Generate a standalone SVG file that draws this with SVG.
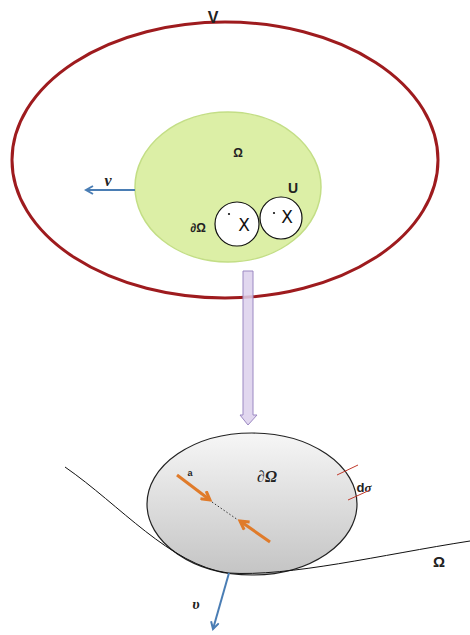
<svg xmlns="http://www.w3.org/2000/svg" width="470" height="635" viewBox="0 0 470 635">
<defs>
<linearGradient id="gray" x1="0" y1="0" x2="0" y2="1">
<stop offset="0" stop-color="#f6f6f6"/>
<stop offset="1" stop-color="#c4c4c4"/>
</linearGradient>
<marker id="blueHead" viewBox="0 0 10 10" refX="8" refY="5" markerWidth="5" markerHeight="5" orient="auto-start-reverse">
<path d="M1,1 L8,5 L1,9" fill="none" stroke="#4a7db4" stroke-width="2"/>
</marker>
<marker id="orangeHead" viewBox="0 0 10 10" refX="8" refY="5" markerWidth="4" markerHeight="4" orient="auto">
<path d="M1,1 L8,5 L1,9" fill="none" stroke="#e07b2a" stroke-width="2.5"/>
</marker>
</defs>
<style>
.lbl{font-family:"Liberation Sans",Arial,sans-serif;font-weight:bold;fill:#222;}
.ser{font-family:"Liberation Serif","Times New Roman",serif;font-style:italic;font-weight:bold;fill:#222;}
.x{font-family:"DejaVu Sans","Liberation Sans",sans-serif;font-weight:normal;fill:#111;}
</style>
<rect width="470" height="635" fill="#ffffff"/>

<g id="V">
<ellipse cx="225" cy="160" rx="213" ry="138" fill="none" stroke="#9e1b1e" stroke-width="3"/>
<text class="lbl" x="213" y="23" font-size="16" text-anchor="middle">V</text>
</g>

<g id="Omega">
<ellipse cx="228" cy="187" rx="93" ry="75" fill="#dcefa6" stroke="#c3de86" stroke-width="1.5"/>
<text class="lbl" x="238" y="157" font-size="12" text-anchor="middle">Ω</text>
<text class="lbl" x="198" y="232" font-size="12" text-anchor="middle">∂Ω</text>
<text class="lbl" x="293" y="193" font-size="14" text-anchor="middle">U</text>
</g>

<g id="ball1">
<circle cx="237" cy="224" r="22" fill="#ffffff" stroke="#111" stroke-width="1.2"/>
<circle cx="229" cy="214" r="1.1" fill="#111"/>
<text class="x" x="244" y="231" font-size="17" text-anchor="middle">X</text>
</g>

<g id="ball2">
<circle cx="281" cy="218" r="21" fill="#ffffff" stroke="#111" stroke-width="1.2"/>
<circle cx="274" cy="213" r="1.1" fill="#111"/>
<text class="x" x="287" y="223" font-size="17" text-anchor="middle">X</text>
</g>

<g id="boundary">
<ellipse cx="252" cy="504" rx="105" ry="71" fill="url(#gray)" stroke="#222" stroke-width="1.2"/>
<text class="ser" x="267" y="482" font-size="16" text-anchor="middle">∂Ω</text>
<text class="lbl" x="190" y="476" font-size="9" text-anchor="middle">a</text>
<text class="lbl" x="364" y="492" font-size="13" text-anchor="middle">d<tspan font-family="Liberation Serif" font-style="italic">σ</tspan></text>
<line x1="337" y1="475" x2="358" y2="465" stroke="#c0392b" stroke-width="1"/>
<line x1="348" y1="500" x2="370" y2="490" stroke="#c0392b" stroke-width="1"/>
</g>

<g id="domainCurve">
<path d="M65,467 C120,505 170,565 228,573 C290,577 380,555 470,541" fill="none" stroke="#111" stroke-width="1"/>
<text class="lbl" x="439" y="567" font-size="15" text-anchor="middle">Ω</text>
</g>

<g id="connectors">
<line x1="135" y1="190" x2="86" y2="190" stroke="#4a7db4" stroke-width="2" marker-end="url(#blueHead)"/>
<text class="ser" x="108" y="186" font-size="16" text-anchor="middle">ν</text>
<path d="M243,271 L253,271 L253,415 L257,415 L248,425 L240,415 L243,415 Z" fill="#dcd0ec" fill-opacity="0.85" stroke="#9b88c2" stroke-width="1"/>
<line x1="229" y1="573" x2="213" y2="629" stroke="#4a7db4" stroke-width="2" marker-end="url(#blueHead)"/>
<text class="ser" x="196" y="609" font-size="15" text-anchor="middle">υ</text>
<line x1="177" y1="475" x2="210" y2="500" stroke="#e07b2a" stroke-width="3" marker-end="url(#orangeHead)"/>
<line x1="270" y1="542" x2="240" y2="521" stroke="#e07b2a" stroke-width="3" marker-end="url(#orangeHead)"/>
<line x1="212" y1="502" x2="238" y2="520" stroke="#333" stroke-width="1" stroke-dasharray="1.5,2"/>
</g>
</svg>
